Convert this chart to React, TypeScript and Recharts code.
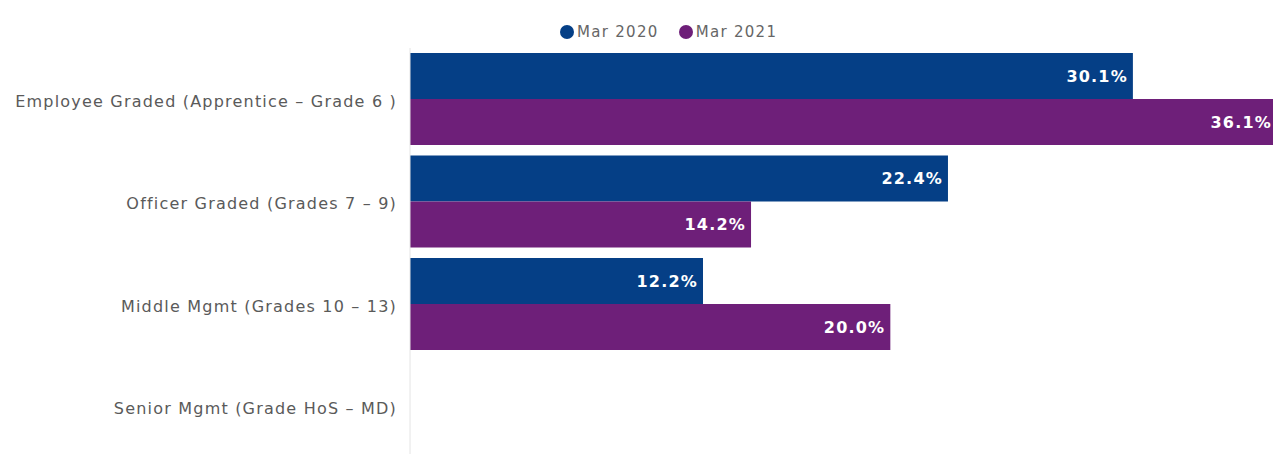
import React from "react";
import { BarChart, Bar, XAxis, YAxis, Legend, LabelList } from "recharts";

const grades = [
  "Employee Graded (Apprentice \u2013 Grade 6 )",
  "Officer Graded (Grades 7 \u2013 9)",
  "Middle Mgmt (Grades 10 \u2013 13)",
  "Senior Mgmt (Grade HoS \u2013 MD)",
];
const mar2020 = [30.1, 22.4, 12.2, null];
const mar2021 = [36.1, 14.2, 20.0, null];

const rows = grades.map((g, i) => ({ grade: g, mar2020: mar2020[i], mar2021: mar2021[i] }));

const BLUE = "#053f86";
const PURPLE = "#6e1f79";
const FONT = "'DejaVu Sans', Verdana, sans-serif";

function pct(v: any) {
  if (v === null || v === undefined) return "";
  return `${Number(v).toFixed(1)}%`;
}

function LegendBox() {
  const items = [
    { name: "Mar 2020", color: BLUE },
    { name: "Mar 2021", color: PURPLE },
  ];
  return (
    <div style={{ display: "flex", gap: 20, fontFamily: FONT, fontSize: 15, letterSpacing: 1.3, color: "#666", lineHeight: "18px" }}>
      {items.map((it) => (
        <div key={it.name} style={{ display: "flex", alignItems: "center", gap: 3 }}>
          <span style={{ width: 14, height: 14, borderRadius: "50%", background: it.color, display: "inline-block" }} />
          <span>{it.name}</span>
        </div>
      ))}
    </div>
  );
}

export default function App() {
  return (
    <div style={{ position: "fixed", left: 0, top: 0, width: 1273, height: 454, overflow: "hidden", background: "#fff" }}>
      <BarChart
        width={1277}
        height={462}
        data={rows}
        layout="vertical"
        margin={{ top: 34, right: 0, bottom: 4, left: 0 }}
        barGap={0}
        barSize={46}
      >
        <XAxis type="number" domain={[0, 36.1]} allowDataOverflow hide />
        <YAxis
          type="category"
          dataKey="grade"
          width={410}
          tickLine={false}
          tickSize={0}
          tickMargin={13}
          axisLine={{ stroke: "#e4e4e4" }}
          tick={{ fill: "#5a5a5a", fontSize: 16, fontFamily: FONT, letterSpacing: 1.2, dy: 2 }}
        />
        <Legend
          verticalAlign="top"
          height={14}
          content={() => <LegendBox />}
          wrapperStyle={{ top: 23, left: 560, width: "auto" }}
        />
        <Bar dataKey="mar2020" name="Mar 2020" fill={BLUE} isAnimationActive={false}>
          <LabelList
            dataKey="mar2020"
            position="insideRight"
            formatter={pct}
            fill="#fff"
            style={{ fontWeight: "bold", fontSize: 16, fontFamily: FONT, letterSpacing: 1.2 }}
          />
        </Bar>
        <Bar dataKey="mar2021" name="Mar 2021" fill={PURPLE} isAnimationActive={false}>
          <LabelList
            dataKey="mar2021"
            position="insideRight"
            formatter={pct}
            fill="#fff"
            style={{ fontWeight: "bold", fontSize: 16, fontFamily: FONT, letterSpacing: 1.2 }}
          />
        </Bar>
      </BarChart>
    </div>
  );
}
